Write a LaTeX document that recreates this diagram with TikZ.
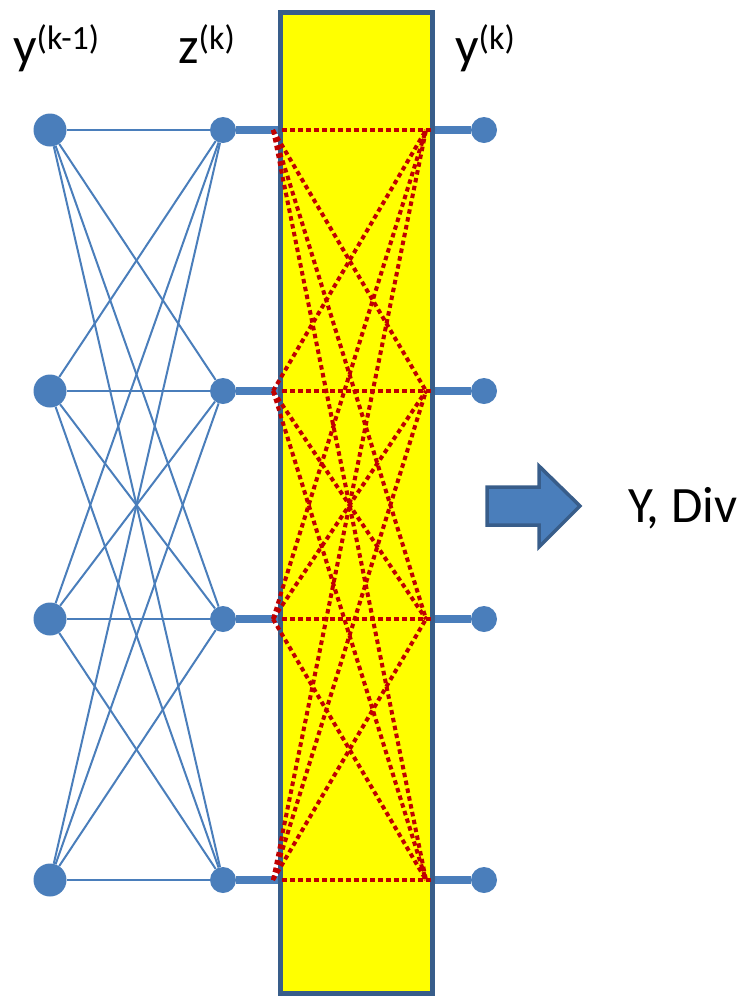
\documentclass[tikz,border=0pt]{standalone}
\usepackage{fontspec}
\setmainfont{Carlito}
\usepackage{xcolor}
\usepackage{tikz}
\usetikzlibrary{arrows.meta,positioning}

\definecolor{nodeblue}{RGB}{74,126,187}
\definecolor{rimblue}{RGB}{56,93,138}
\definecolor{dotred}{RGB}{192,0,0}
\definecolor{boxyellow}{RGB}{255,255,0}
\newcommand{\suplbl}[2]{#1\raisebox{14pt}{\fontsize{34}{34}\selectfont #2}}

\begin{document}
\begin{tikzpicture}[x=1pt,y=-1pt]
\tikzstyle{bigdot}=[circle,fill=nodeblue,inner sep=0pt,minimum size=33pt]
\tikzstyle{dot}=[circle,fill=nodeblue,inner sep=0pt,minimum size=26pt]
\tikzstyle{lbl}=[anchor=base west,inner sep=0pt,font=\fontsize{52}{60}\selectfont]
\tikzstyle{wire}=[draw=nodeblue,line width=2pt]
\tikzstyle{bus}=[draw=nodeblue,line width=8pt]
\tikzstyle{redlink}=[draw=dotred,line width=4pt,dash pattern=on 4.5pt off 3.5pt]
\tikzstyle{block}=[draw=rimblue,fill=boxyellow,line width=5pt,minimum width=151.5pt,minimum height=980.5pt,inner sep=0pt]
\useasboundingbox (0,0) rectangle (745,997);

% softmax block
\node[block] (blk) at (356.25,502.75) {};

% layer k-1, z and y
\foreach \i/\r in {1/130,2/391,3/619,4/880} {
  \node[bigdot] (y\i) at (50,\r) {};
  \node[dot] (z\i) at (223,\r) {};
  \node[dot] (o\i) at (484,\r) {};
  \coordinate (a\i) at (273,\r);
  \coordinate (b\i) at (426,\r);
  \coordinate (h\i) at (282,\r);
  \coordinate (e\i) at (432,\r);
}

\foreach \i in {1,...,4}
  \foreach \j in {1,...,4}
    \draw[wire] (y\i) -- (z\j);

\foreach \i in {1,...,4} {
  \draw[bus] (z\i) -- (z\i -| blk.west);
  \draw[bus] (blk.east |- o\i) -- (o\i);
}

\foreach \i in {1,...,4} {
  \draw[redlink] (h\i) -- (e\i);
  \foreach \j in {1,...,4} {
    \ifnum\i=\j\relax\else\draw[redlink] (a\i) -- (b\j);\fi
  }
}

% labels
\node[lbl] (tprev) at (13,63) {\suplbl{y}{(k-1)}};
\node[lbl] (tz) at (178,63) {\suplbl{z}{(k)}};
\node[lbl] (tout) at (455,63) {\suplbl{y}{(k)}};

% output arrow
\draw[draw=rimblue,fill=nodeblue,line width=3.5pt] (487,487) -- (539,487) -- (539,466) -- (580,506)
  -- (539,547) -- (539,525) -- (487,525) -- cycle;
\node[lbl,font=\fontsize{51}{60}\selectfont] (res) at (628,522) {Y, Div};
\end{tikzpicture}
\end{document}
